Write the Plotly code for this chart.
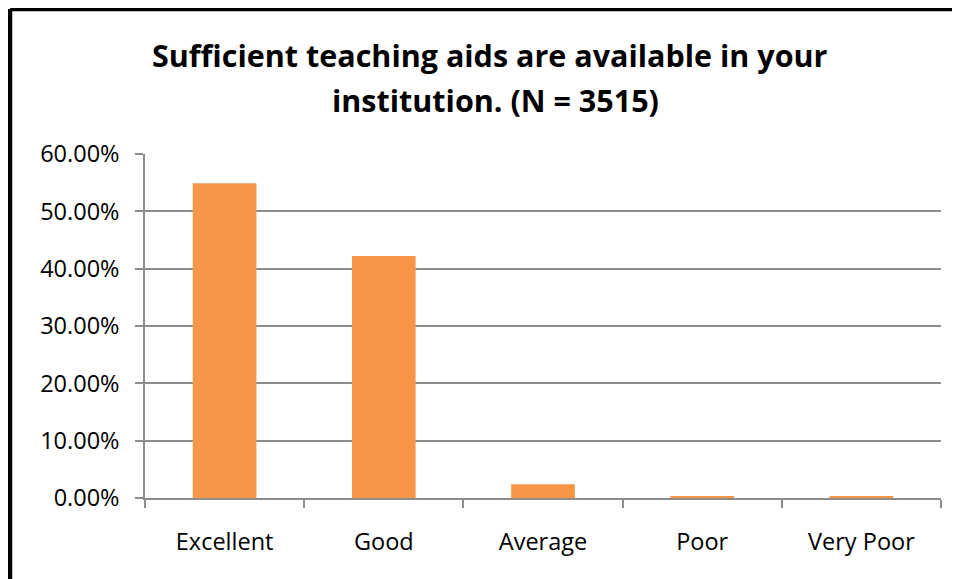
import plotly.graph_objects as go

# Data
categories = ["Excellent", "Good", "Average", "Poor", "Very Poor"]
shares = [54.9, 42.2, 2.4, 0.3, 0.2]  # percent of respondents
y_ticks = [0, 10, 20, 30, 40, 50, 60]
y_tick_labels = [f"{v:.2f}%" for v in y_ticks]
title_lines = ["Sufficient teaching aids are available in your", "institution. (N = 3515)"]

FONT = "Open Sans"
GRID = "#8c8c8c"

fig = go.Figure()
fig.add_trace(go.Bar(
    x=categories, y=shares, width=0.4,
    marker=dict(color="#F79646", line=dict(width=0)),
    hoverinfo="skip",
))

fig.update_xaxes(
    showline=True, linecolor=GRID, linewidth=1.5,
    ticks="outside", tickson="boundaries", ticklen=8, tickcolor=GRID, tickwidth=1.5,
    tickfont=dict(family=FONT, size=23.5, color="black"),
    ticklabelstandoff=22,
)
fig.update_yaxes(
    range=[0, 60], tickvals=y_ticks, ticktext=y_tick_labels,
    showgrid=True, gridcolor=GRID, gridwidth=1.5,
    showline=True, linecolor=GRID, linewidth=1.5,
    ticks="outside", ticklen=8, tickcolor=GRID, tickwidth=1.5,
    tickfont=dict(family=FONT, size=23.5, color="black"),
    ticklabelstandoff=11, zeroline=False,
)

# two title lines as separate annotations to match the wide line spacing
for text, ypos, xpos in zip(title_lines, [1.288, 1.157], [0.4334, 0.4397]):
    fig.add_annotation(
        text=f"<b>{text}</b>", xref="paper", yref="paper", x=xpos, y=ypos,
        xanchor="center", yanchor="middle", showarrow=False,
        font=dict(family=FONT, size=30.5, color="black"),
    )

# black frame on top and left edge
fig.add_shape(type="line", xref="paper", yref="paper",
              x0=-0.1696, x1=1.05, y0=1.4215, y1=1.4215,
              line=dict(color="black", width=4.5))
fig.add_shape(type="line", xref="paper", yref="paper",
              x0=-0.1696, x1=-0.1696, y0=1.4215, y1=-0.3,
              line=dict(color="black", width=4.5))

# margins compensate for the page's 8px body offset
fig.update_layout(
    width=960, height=579,
    margin=dict(l=137, r=27, t=146, b=89),
    plot_bgcolor="white", paper_bgcolor="white",
    showlegend=False, bargap=0.6,
)

fig.write_html("out.html")
